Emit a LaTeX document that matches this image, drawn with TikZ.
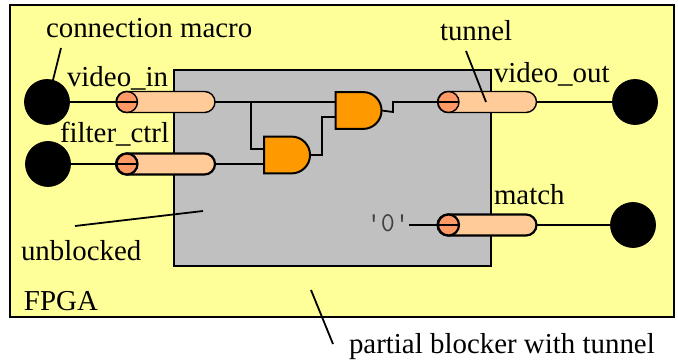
\documentclass[tikz,border=0pt]{standalone}
\usepackage{xcolor}
\usepackage{fontspec}
\setmainfont{Liberation Serif}
\usepackage{tikz}
\usetikzlibrary{shapes.misc, shapes.gates.logic.US}
\definecolor{fpgayellow}{RGB}{255, 255, 153}
\definecolor{blockgray}{RGB}{192, 192, 192}
\definecolor{tunnelbody}{RGB}{255, 204, 153}
\definecolor{tunnelend}{RGB}{255, 153, 102}
\definecolor{gateorange}{RGB}{255, 153, 0}
\tikzset{
    lbl/.style={font=\fontsize{14.45}{16}\selectfont, anchor=base west, inner sep=0pt, outer sep=0pt},
    pin/.style={circle, fill=black, draw=black, minimum size=22.5pt, inner sep=0pt, outer sep=0pt},
    pipe/.style={rounded rectangle, draw=black, fill=tunnelbody, minimum width=49.5pt, minimum height=10.5pt, inner sep=0pt, outer sep=0pt},
    pipeend/.style={circle, draw=black, fill=tunnelend, minimum size=10.5pt, inner sep=0pt, outer sep=0pt},
    gate/.style={and gate US, logic gate inputs=nn, draw=black, fill=gateorange, line width=1pt, minimum width=23pt, minimum height=18pt, inner sep=0pt, outer sep=0pt},
    wire/.style={line width=0.9pt},
    leader/.style={line width=0.9pt}
}

\begin{document}
\begin{tikzpicture}[x=0.5pt, y=-0.5pt]
    \useasboundingbox (0,0) rectangle (678,362);

    % device and blocked region
    \draw[line width=1.1pt, fill=fpgayellow] (10,5) rectangle (674,317);
    \draw[line width=1.1pt, fill=blockgray] (174,70) rectangle (491,266);

    % connection macros
    \node[pin] (pinvin) at (47,102) {};
    \node[pin] (pinfilter) at (48,164) {};
    \node[pin] (pinvout) at (635,102) {};
    \node[pin] (pinmatch) at (633,225) {};

    % tunnels
    \foreach \name/\x/\y/\lw in {vin/165.5/102/0.7pt, filter/165.5/164/1.1pt, vout/487/102/0.7pt, match/487/225/1.1pt} {
        \node[pipe, line width=\lw] (\name) at (\x,\y) {};
        \node[pipeend, line width=\lw] (\name-end) at (\x-38.5,\y) {};
    }

    % gates
    \node[gate] (gatelow) at (285.5,155) {};
    \node[gate] (gatehigh) at (357,110.5) {};

    % wires outside the gates
    \draw[wire] (pinvin.east) -- (vin-end.east);
    \draw[wire] (pinfilter.east) -- (filter-end.east);
    \draw[wire] (vout-end.west) -- (vout-end.east);
    \draw[wire] (vout.east) -- (pinvout.west);
    \draw[wire] (match-end.east) -- (match-end.west);
    \draw[wire] (match.east) -- (pinmatch.west);

    % wires to the gates
    \coordinate (branch) at (251,102);
    \draw[wire] (vin.east) -- (vin.east -| gatehigh.west);
    \draw[wire] (branch) |- (gatelow.input 1);
    \draw[wire] (filter.east) -- (filter.east -| gatelow.west);
    \coordinate (lowbend) at (322,155);
    \draw[wire] (gatelow.output) -- (lowbend) |- (gatehigh.input 2);
    \coordinate (highbend) at (393,112);
    \draw[wire] (gatehigh.output) -- (highbend) |- (vout-end.west);

    % constant input
    \node[font=\ttfamily\fontsize{13.6}{14}\selectfont, text=black!75, anchor=base east, inner sep=0pt, outer sep=0pt] (zero) at (409,232) {'0'};
    \draw[wire] (match-end.west -| zero.east) -- (match-end.west);

    % labels
    \node[lbl] (maclabel) at (46,38) {connection macro};
    \node[lbl] (vinlabel) at (67,87) {video\_in};
    \node[lbl] (filterlabel) at (60,143) {filter\_ctrl};
    \node[lbl] (tunlabel) at (440,41) {tunnel};
    \node[lbl] (voutlabel) at (494,83) {video\_out};
    \node[lbl] (matchlabel) at (494,205) {match};
    \node[lbl] (unblabel) at (21,261) {unblocked};
    \node[lbl] (fpgalabel) at (24,311) {FPGA};
    \node[lbl] (blklabel) at (349,353) {partial blocker with tunnel};

    % leaders
    \coordinate (macfrom) at (61,48);
    \coordinate (macto) at (53,80);
    \draw[leader] (macfrom) -- (macto);
    \coordinate (tunfrom) at (466,51);
    \coordinate (tunto) at (486,102);
    \draw[leader] (tunfrom) -- (tunto);
    \coordinate (unbfrom) at (75,226);
    \coordinate (unbto) at (203,211);
    \draw[leader] (unbfrom) -- (unbto);
    \coordinate (blkfrom) at (311,290);
    \coordinate (blkto) at (333,344);
    \draw[leader] (blkfrom) -- (blkto);
\end{tikzpicture}
\end{document}
